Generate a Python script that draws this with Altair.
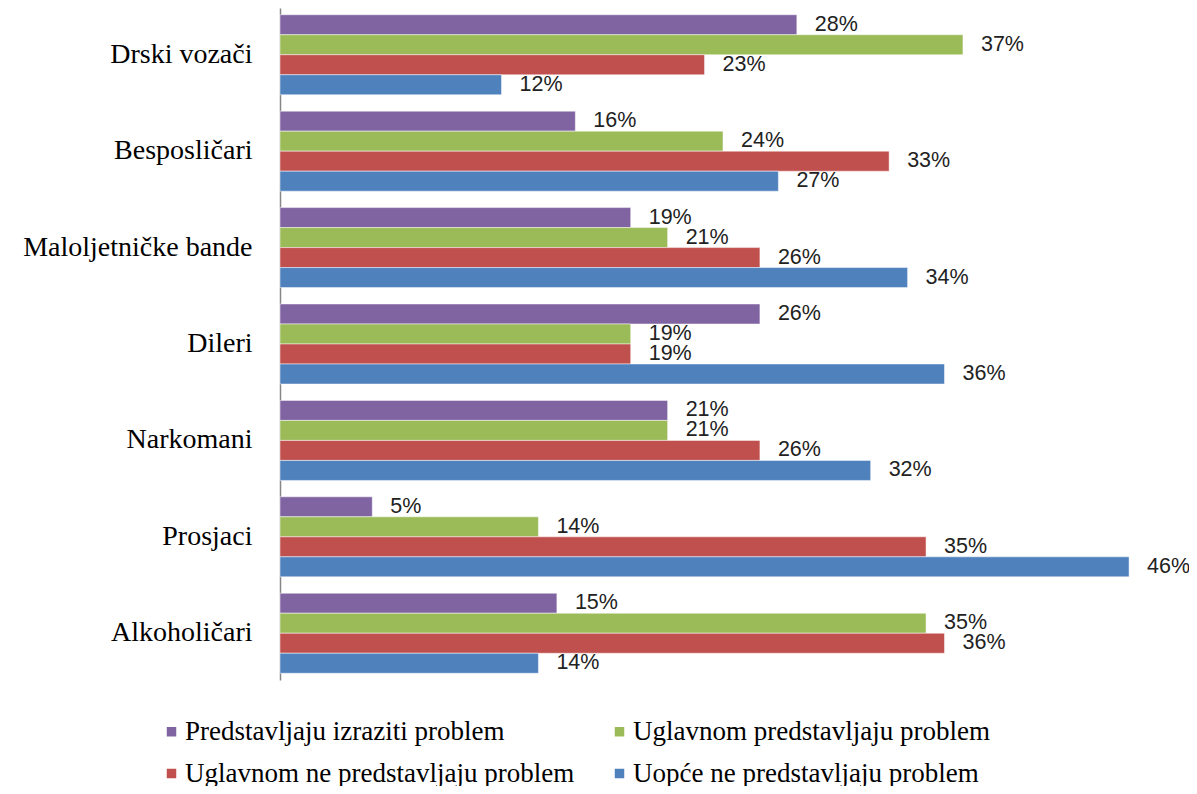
import altair as alt
import pandas as pd

categories = ["Drski vozači", "Besposličari", "Maloljetničke bande", "Dileri",
              "Narkomani", "Prosjaci", "Alkoholičari"]
series = ["Predstavljaju izraziti  problem", "Uglavnom predstavljaju problem",
          "Uglavnom ne predstavljaju problem", "Uopće ne predstavljaju problem"]
colors = ["#8064A2", "#9BBB59", "#C0504D", "#4F81BD"]

izraziti = [28, 16, 19, 26, 21, 5, 15]
uglavnom = [37, 24, 21, 19, 21, 14, 35]
uglavnom_ne = [23, 33, 26, 19, 26, 35, 36]
uopce_ne = [12, 27, 34, 36, 32, 46, 14]

rows = []
for s, vals in zip(series, [izraziti, uglavnom, uglavnom_ne, uopce_ne]):
    for c, v in zip(categories, vals):
        rows.append({"kategorija": c, "serija": s, "vrijednost": v, "oznaka": f"{v}%"})
df = pd.DataFrame(rows)

y_enc = alt.Y("kategorija:N", sort=categories,
              scale=alt.Scale(paddingInner=0.17, paddingOuter=0.07),
              axis=alt.Axis(title=None, ticks=False, labelFont="Liberation Serif",
                            labelFontSize=28, labelColor="#000000", labelPadding=28,
                            domainColor="#868686", domainWidth=1.5, labelLimit=300))
yoff = alt.YOffset("serija:N", sort=series)
x_enc = alt.X("vrijednost:Q", scale=alt.Scale(domain=[0, 48], nice=False),
              axis=None)

bars = alt.Chart(df).mark_bar(stroke="#ffffff", strokeWidth=0.8, strokeOpacity=0.6).encode(
    y=y_enc, yOffset=yoff, x=x_enc,
    color=alt.Color("serija:N", sort=series,
                    scale=alt.Scale(domain=series, range=colors),
                    legend=alt.Legend(title=None, orient="none", direction="horizontal",
                                      legendX=-122, legendY=710,
                                      columns=2, columnPadding=31, rowPadding=14,
                                      symbolType="square", symbolSize=90,
                                      symbolStrokeWidth=0, labelFont="Liberation Serif",
                                      labelFontSize=27, labelColor="#000000",
                                      labelLimit=600, symbolOffset=0, labelOffset=0))
)

labels = alt.Chart(df).mark_text(align="left", baseline="middle", dx=18, dy=0,
                                 font="Liberation Sans", fontSize=21.5,
                                 color="#222222").encode(
    y=alt.Y("kategorija:N", sort=categories), yOffset=yoff, x=x_enc,
    text="oznaka:N")

chart = alt.layer(bars, labels).properties(
    width=886, height=672,
    background="#ffffff",
    autosize=alt.AutoSizeParams(type="none"),
    padding={"left": 272, "top": 0, "right": 23, "bottom": 106}
).configure_view(stroke=None, strokeWidth=0)

chart.save("out.html", embed_options={"renderer": "svg", "actions": False})
